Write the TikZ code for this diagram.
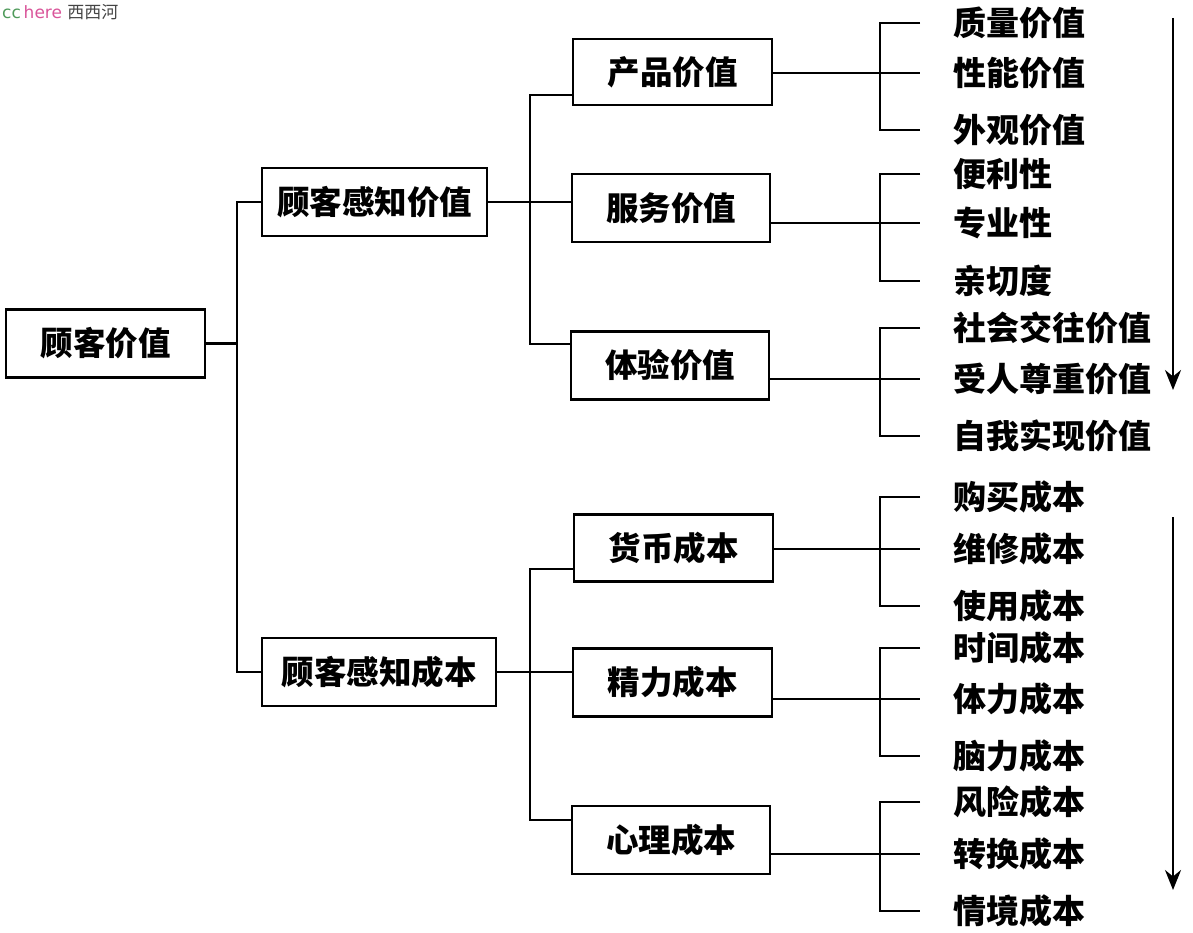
\documentclass[tikz,border=0pt]{standalone}
\usepackage{fontspec}
\newfontfamily\cjk{Noto Sans CJK SC}
\newfontfamily\wmfont{DejaVu Sans}
\usetikzlibrary{arrows.meta}
\definecolor{wmgreen}{HTML}{4E9A5A}
\definecolor{wmpink}{HTML}{D9559A}
\definecolor{wmgray}{HTML}{444444}
\tikzset{
  box/.style={draw, line width=2.5pt, minimum width=#1, minimum height=68pt, inner sep=0pt,
    font=\cjk\bfseries\fontsize{32.5}{33}\selectfont},
  leaf/.style={anchor=west, inner sep=0pt, font=\cjk\bfseries\fontsize{33}{33}\selectfont},
  conn/.style={line width=2.3pt},
  flow/.style={line width=2.5pt, -{Stealth[length=20pt,width=16pt]}}
}
\begin{document}
\begin{tikzpicture}[x=1pt,y=1pt]
\useasboundingbox (0,0) rectangle (1193,-933);
% watermark
\node[anchor=west, inner sep=0pt] (wm) at (2,-12) {\wmfont\fontsize{17}{17}\selectfont\color{wmgreen}cc\,\color{wmpink}here\ \cjk\color{wmgray}\fontsize{17}{17}\selectfont 西西河};
% boxes
\node[box=199pt] (gkjz) at (105.5,-343.5) {顾客价值};
\node[box=225pt] (gzjz) at (374.5,-202) {顾客感知价值};
\node[box=234pt] (gzcb) at (379,-672) {顾客感知成本};
\node[box=199pt, minimum height=66pt] (cp) at (672.5,-72) {产品价值};
\node[box=198pt] (fw) at (671,-208) {服务价值};
\node[box=198pt] (ty) at (670,-365.5) {体验价值};
\node[box=199pt, minimum height=67pt] (hb) at (673.5,-548) {货币成本};
\node[box=199pt] (jl) at (672.5,-682.5) {精力成本};
\node[box=198pt] (xl) at (671,-840) {心理成本};
% leaves
\node[leaf] (a1) at (953,-23) {质量价值};
\node[leaf] (a2) at (953,-73) {性能价值};
\node[leaf] (a3) at (953,-130) {外观价值};
\node[leaf] (b1) at (953,-174) {便利性};
\node[leaf] (b2) at (953,-223) {专业性};
\node[leaf] (b3) at (953,-281) {亲切度};
\node[leaf] (c1) at (953,-328) {社会交往价值};
\node[leaf] (c2) at (953,-379) {受人尊重价值};
\node[leaf] (c3) at (953,-436) {自我实现价值};
\node[leaf] (d1) at (953,-497) {购买成本};
\node[leaf] (d2) at (953,-549) {维修成本};
\node[leaf] (d3) at (953,-606) {使用成本};
\node[leaf] (e1) at (953,-648) {时间成本};
\node[leaf] (e2) at (953,-699) {体力成本};
\node[leaf] (e3) at (953,-756) {脑力成本};
\node[leaf] (f1) at (953,-802) {风险成本};
\node[leaf] (f2) at (953,-854) {转换成本};
\node[leaf] (f3) at (953,-911) {情境成本};
% level 1
\coordinate (j0) at (237,-343.5);
\draw[conn] (gkjz.east) -- (j0);
\draw[conn] (gzjz.west) -| (j0) |- (gzcb.west);
% level 2 (value)
\coordinate (cpin) at (573,-95);
\coordinate (tyin) at (571,-344);
\coordinate (busA) at (530,-95);
\draw[conn] (cpin) -- (busA) |- (tyin);
\draw[conn] (gzjz.east) -- (gzjz.east -| fw.west);
% level 2 (cost)
\coordinate (hbin) at (574,-569);
\coordinate (xlin) at (572,-820);
\coordinate (busB) at (530,-569);
\draw[conn] (hbin) -- (busB) |- (xlin);
\draw[conn] (gzcb.east) -- (gzcb.east -| jl.west);
% brackets
\foreach \b/\p/\q/\r in {cp/a1/a2/a3, fw/b1/b2/b3, ty/c1/c2/c3, hb/d1/d2/d3, jl/e1/e2/e3, xl/f1/f2/f3}{
  \draw[conn] ([xshift=-33pt]\p.west) -- ([xshift=-73pt]\p.west) -- ([xshift=-73pt]\r.west) -- ([xshift=-33pt]\r.west);
  \draw[conn, shorten >=33pt] (\b.east |- \q.west) -- (\q.west);
}
% flow arrows
\coordinate (ar1s) at (1173,-18);
\coordinate (ar1e) at (1173,-390);
\coordinate (ar2s) at (1173,-517);
\coordinate (ar2e) at (1173,-890);
\draw[flow] (ar1s) -- (ar1e);
\draw[flow] (ar2s) -- (ar2e);
\end{tikzpicture}
\end{document}
